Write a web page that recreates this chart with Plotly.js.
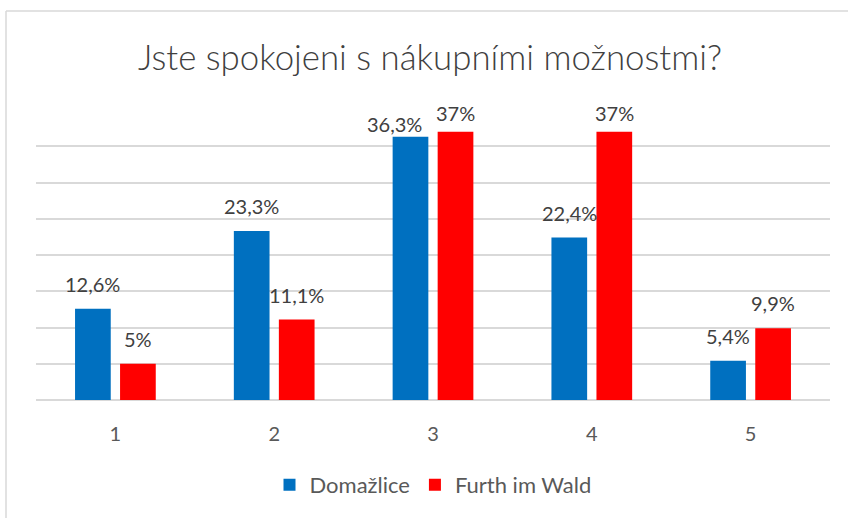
<!DOCTYPE html>
<html>
<head>
<meta charset="utf-8">
<script src="https://cdn.plot.ly/plotly-3.0.1.min.js"></script>
<style>html,body{margin:0;padding:0;background:#fff;}#chart{width:848px;height:518px;}</style>
</head>
<body>
<div id="chart"></div>
<script>
const categories = ["1", "2", "3", "4", "5"];
const domazlice = [12.6, 23.3, 36.3, 22.4, 5.4];
const furth = [5, 11.1, 37, 37, 9.9];
const seriesNames = ["Domažlice", "Furth im Wald"];
const chartTitle = "Jste spokojeni s nákupními možnostmi?";

const W = 848, H = 518;
const M = {l: 36, r: 18, t: 110, b: 118};
const pw = W - M.l - M.r, ph = H - M.t - M.b;
const yMax = 40;
const fmt = v => String(v).replace('.', ',') + '%';
const font = "Lato, 'Open Sans', sans-serif";
const labelColor = '#404040';

const traces = [
  {type: 'bar', x: categories, y: domazlice, name: seriesNames[0],
   marker: {color: '#0070C0'}},
  {type: 'bar', x: categories, y: furth, name: seriesNames[1],
   marker: {color: '#FF0000'}}
];

const px = x => (x - M.l) / pw;
const py = y => (H - M.b - y) / ph;

// data labels above the bars (group offset of half a bar slot);
// labels are kept inside the chart area near the top, and a label that
// would collide with its neighbour in the group is nudged left and down
const slot = pw / categories.length * (1 - 0.433) / 2;
const barTop = v => ph - v / yMax * ph;          // px below plot top
const labelCenter = v => barTop(v) - Math.min(25, barTop(v) - 3);
const annotations = [];
[domazlice, furth].forEach((series, si) => {
  const other = si === 0 ? furth : domazlice;
  series.forEach((v, i) => {
    let shift = Math.min(25, barTop(v) - 3);
    let xs = (si - 0.5) * slot;
    if (si === 0 && Math.abs(labelCenter(v) - labelCenter(other[i])) < 12) {
      shift -= 11;
      xs -= 16;
    }
    annotations.push({x: i, y: v, xref: 'x', yref: 'y', text: fmt(v),
      showarrow: false, xshift: xs, yshift: shift, yanchor: 'middle',
      font: {size: 20, color: labelColor, family: font}});
  });
});

const layout = {
  width: W, height: H,
  margin: M,
  paper_bgcolor: '#fff', plot_bgcolor: '#fff',
  font: {family: font, color: '#595959'},
  title: {text: chartTitle, font: {size: 34.8, color: labelColor, family: font, weight: 300},
          x: 430 / W, xanchor: 'center', y: 1 - 58 / H, yanchor: 'middle'},
  barmode: 'group', bargap: 0.433, bargroupgap: 0.207,
  xaxis: {type: 'category', range: [-0.5, categories.length - 0.5], showgrid: false, showline: false,
          ticks: 'outside', ticklen: 16, tickcolor: 'rgba(0,0,0,0)',
          tickfont: {size: 20, color: '#595959', family: font}, fixedrange: true},
  yaxis: {range: [0, yMax], dtick: 5, showticklabels: false, showgrid: true,
          gridcolor: '#d9d9d9', gridwidth: 2, zeroline: true, zerolinecolor: '#d9d9d9',
          zerolinewidth: 2, ticks: '', fixedrange: true},
  showlegend: true,
  legend: {orientation: 'h', x: 0.5, xanchor: 'center', y: py(485), yanchor: 'middle',
           font: {size: 22, color: '#595959', family: font}, itemwidth: 30,
           traceorder: 'normal'},
  annotations: annotations,
  shapes: [
    {type: 'line', xref: 'paper', yref: 'paper', x0: px(6), x1: px(W + 5), y0: py(11), y1: py(11),
     line: {color: '#d9d9d9', width: 1.5}},
    {type: 'line', xref: 'paper', yref: 'paper', x0: px(6), x1: px(6), y0: py(11), y1: py(H + 5),
     line: {color: '#d9d9d9', width: 1.5}}
  ]
};

Plotly.newPlot('chart', traces, layout, {displayModeBar: false, staticPlot: true});
</script>
</body>
</html>
